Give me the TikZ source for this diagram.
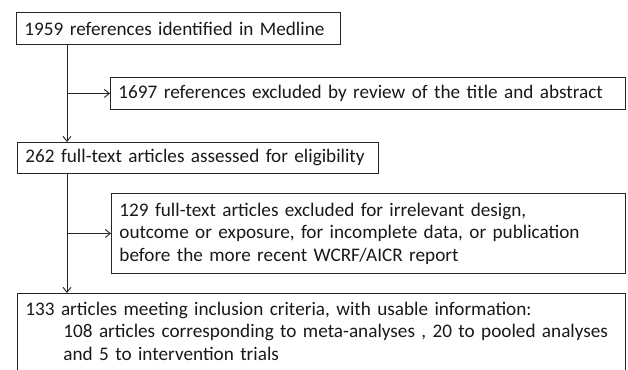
\documentclass[tikz,border=0pt]{standalone}
\usepackage{fontspec}
\setmainfont{Carlito}
\usetikzlibrary{arrows.meta}
\begin{document}
\begin{tikzpicture}[x=1pt,y=-1pt,
  fbox/.style={draw=black!85, line width=0.9pt, anchor=north west, inner xsep=8pt, inner ysep=0pt,
    align=left, font=\fontsize{19.2}{22.5}\selectfont, text=black!90},
  conn/.style={draw=black!85, line width=0.9pt},
  arr/.style={conn, -{Straight Barb[length=5pt,width=8pt,line width=0.9pt]}}]
\useasboundingbox (0,0) rectangle (628,369);
\clip (0,0) rectangle (628,369);
\node[fbox, minimum width=324pt, minimum height=32pt, text width=308pt] (b1) at (16,12)
  {1959 references identified in Medline};
\node[fbox, minimum width=515pt, minimum height=32pt, text width=499pt] (b2) at (110,77)
  {1697 references excluded by review of the title and abstract};
\node[fbox, minimum width=361pt, minimum height=31pt, text width=345pt] (b3) at (17,142)
  {262 full-text articles assessed for eligibility};
\node[fbox, minimum width=514pt, minimum height=80pt, text width=498pt] (b4) at (111,193)
  {129 full-text articles excluded for irrelevant design,\\
   outcome or exposure, for incomplete data, or publication\\
   before the more recent WCRF/AICR report};
\node[fbox, minimum width=608pt, minimum height=100pt, text width=592pt, anchor=north west, inner ysep=6pt] (b5) at (17,293)
  {\strut 133 articles meeting inclusion criteria, with usable information:\\
   \hspace*{38pt}108 articles corresponding to meta-analyses , 20 to pooled analyses\\
   \hspace*{38pt}and 5 to intervention trials\\ \strut};
\coordinate (j) at (67,0);
\draw[arr] (b1.south -| j) -- (b3.north -| j);
\draw[arr] (j |- b2.west) -- (b2.west);
\draw[arr] (b3.south -| j) -- (b5.north -| j);
\draw[arr] (j |- b4.west) -- (b4.west);
\end{tikzpicture}
\end{document}
